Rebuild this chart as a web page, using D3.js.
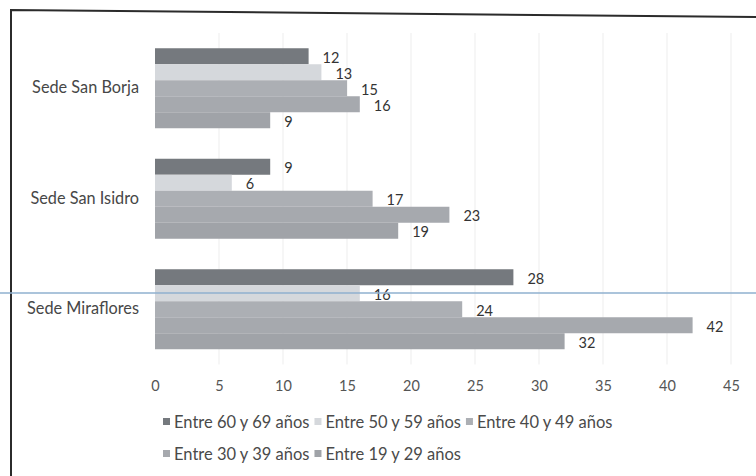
<!DOCTYPE html>
<html>
<head>
<meta charset="utf-8">
<script src="https://cdn.jsdelivr.net/npm/d3@7/dist/d3.min.js"></script>
<style>
  html, body { margin: 0; padding: 0; background: #fff; }
  svg { display: block; }
  text { font-family: Lato, "Open Sans", sans-serif; }
</style>
</head>
<body>
<svg id="chart" width="756" height="476"></svg>
<script>
// ---- data ----
const categories = ["Sede San Borja", "Sede San Isidro", "Sede Miraflores"];
const seriesNames = ["Entre 60 y 69 años", "Entre 50 y 59 años", "Entre 40 y 49 años", "Entre 30 y 39 años", "Entre 19 y 29 años"];
const v60_69 = [12, 9, 28];
const v50_59 = [13, 6, 16];
const v40_49 = [15, 17, 24];
const v30_39 = [16, 23, 42];
const v19_29 = [9, 19, 32];
const xTicks = [0, 5, 10, 15, 20, 25, 30, 35, 40, 45];
const seriesColors = ["#75797e", "#d5d8dc", "#acafb4", "#a6a9ae", "#a0a3a8"];

const seriesValues = [v60_69, v50_59, v40_49, v30_39, v19_29];

// ---- layout ----
const svg = d3.select("#chart");
const W = 756, H = 476;
const plot = { left: 155, right: 731, top: 33, bottom: 364.5 };

const x = d3.scaleLinear().domain([0, 45]).range([plot.left, plot.right]);
const y = d3.scaleBand().domain(categories).range([plot.top, plot.bottom])
  .paddingInner(0.276).paddingOuter(0.138);
const ySub = d3.scaleBand().domain(seriesNames).range([0, y.bandwidth()]);

// frame (scanned page border)
svg.append("path")
  .attr("d", `M11,${H} L11,10 L${W},17`)
  .attr("fill", "none").attr("stroke", "#2b2b2b").attr("stroke-width", 2);

// gridlines
svg.append("g").selectAll("line").data(xTicks.slice(1)).join("line")
  .attr("x1", d => x(d)).attr("x2", d => x(d))
  .attr("y1", plot.top).attr("y2", plot.bottom)
  .attr("stroke", "#ededed").attr("stroke-width", 1);

// bars
const groups = svg.append("g").selectAll("g").data(categories).join("g")
  .attr("transform", d => `translate(0,${y(d)})`);

groups.each(function(cat, ci) {
  const g = d3.select(this);
  const rows = seriesNames.map((s, si) => ({ s, si, v: seriesValues[si][ci] }));
  g.selectAll("rect").data(rows).join("rect")
    .attr("x", x(0))
    .attr("y", d => ySub(d.s))
    .attr("width", d => x(d.v) - x(0))
    .attr("height", ySub.bandwidth())
    .attr("fill", d => seriesColors[d.si]);
  g.selectAll("text").data(rows).join("text")
    .attr("x", d => x(d.v) + 14)
    .attr("y", d => ySub(d.s) + ySub.bandwidth() / 2 + 1)
    .attr("dominant-baseline", "central")
    .attr("font-size", 14.5)
    .attr("fill", "#333")
    .text(d => d.v);
});

// category labels (y axis, no line)
const yAxis = d3.axisLeft(y).tickSize(0).tickPadding(16);
const yg = svg.append("g").attr("transform", `translate(${plot.left},0)`).call(yAxis);
yg.select(".domain").remove();
yg.selectAll("text").attr("font-size", 16.3).attr("fill", "#474747")
  .attr("font-family", "Lato, sans-serif");

// x axis tick labels
const xAxis = d3.axisBottom(x).tickValues(xTicks).tickSize(0).tickPadding(0);
const xg = svg.append("g").attr("transform", `translate(0,386)`).call(xAxis);
xg.select(".domain").remove();
xg.selectAll("text").attr("font-size", 14.5).attr("fill", "#555")
  .attr("dy", "0.35em").attr("y", 0)
  .attr("font-family", "Lato, sans-serif");

// scan artifact line
svg.append("line").attr("x1", 0).attr("x2", W).attr("y1", 293).attr("y2", 293)
  .attr("stroke", "#8fb1cf").attr("stroke-width", 1.3);

// legend
const legendRows = [[0, 1, 2], [3, 4]];
const legendY = [422, 454];
const legend = svg.append("g");
legendRows.forEach((row, ri) => {
  let cx = 163;
  row.forEach(si => {
    legend.append("rect")
      .attr("x", cx).attr("y", legendY[ri] - 4).attr("width", 7).attr("height", 7)
      .attr("fill", seriesColors[si]);
    const t = legend.append("text")
      .attr("x", cx + 11).attr("y", legendY[ri])
      .attr("dominant-baseline", "central")
      .attr("font-size", 16.5).attr("fill", "#4a4a4a")
      .text(seriesNames[si]);
    cx = cx + 11 + t.node().getComputedTextLength() + 5;
  });
});
</script>
</body>
</html>
